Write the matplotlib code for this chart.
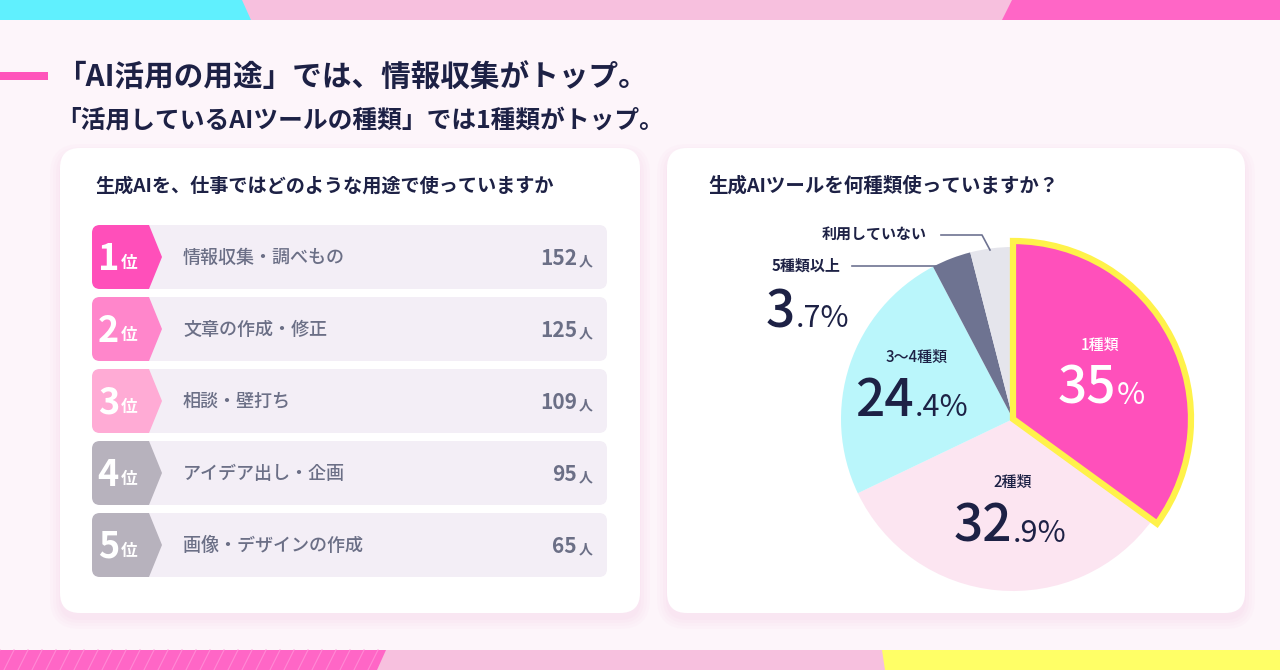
import matplotlib
matplotlib.use("Agg")
import matplotlib.pyplot as plt
from matplotlib.patches import FancyBboxPatch, Polygon

plt.rcParams['font.family'] = ['Noto Sans CJK JP', 'DejaVu Sans']

# ---- data ----
ranks = [1, 2, 3, 4, 5]
uses = ['情報収集・調べもの', '文章の作成・修正', '相談・壁打ち', 'アイデア出し・企画', '画像・デザインの作成']
use_counts = [152, 125, 109, 95, 65]

tool_kinds = ['1種類', '2種類', '3〜4種類', '5種類以上', '利用していない']
tool_shares = [35, 32.9, 24.4, 3.7, 4.0]

NAVY = '#1d2145'
GRAY_TXT = '#6b6f86'
badge_colors = ['#ff4fba', '#ff86cb', '#ffabd5', '#b7b2bd', '#b7b2bd']
slice_colors = ['#ff50bb', '#fce5f1', '#baf6fb', '#6e7391', '#e5e5ec']

fig = plt.figure(figsize=(12.8, 6.7), dpi=100)
fig.patch.set_facecolor('#fdf5fa')
ax = fig.add_axes([0, 0, 1, 1])
ax.set_xlim(0, 1280)
ax.set_ylim(670, 0)
ax.axis('off')

# top band
ax.add_patch(Polygon([(0, 0), (1280, 0), (1280, 20), (0, 20)], color='#f7c0de', lw=0))
ax.add_patch(Polygon([(0, 0), (242, 0), (251, 20), (0, 20)], color='#60f0fe', lw=0))
ax.add_patch(Polygon([(1012, 0), (1280, 0), (1280, 20), (1002, 20)], color='#ff66c6', lw=0))

# bottom band
ax.add_patch(Polygon([(0, 650), (1280, 650), (1280, 670), (0, 670)], color='#f7c0de', lw=0))
ax.add_patch(Polygon([(0, 650), (386, 650), (377, 670), (0, 670)], color='#ff66c6', lw=0))
for sx in range(-10, 380, 14):
    ax.plot([sx, sx + 10], [670, 650], color='#ff8ad4', lw=0.8)
ax.add_patch(Polygon([(882, 650), (1280, 650), (1280, 670), (885, 670)], color='#ffff66', lw=0))

# titles
ax.add_patch(Polygon([(0, 72), (48, 72), (48, 80), (0, 80)], color='#ff55bb', lw=0))
ax.text(56, 77, '「AI活用の用途」では、情報収集がトップ。', fontsize=21.3, fontweight='bold',
        color=NAVY, va='center', ha='left')
ax.text(56, 121, '「活用しているAIツールの種類」では1種類がトップ。', fontsize=17.8,
        fontweight='bold', color=NAVY, va='center', ha='left')

# panels with soft shadow
for px0, px1 in [(60, 640), (667, 1245)]:
    for i, a in enumerate([0.05, 0.05, 0.06, 0.07]):
        g = 10 - i * 3
        ax.add_patch(FancyBboxPatch((px0 - g, 148 - g + 6), px1 - px0 + 2 * g, 465 + 2 * g,
                                    boxstyle='round,pad=0,rounding_size=%d' % (20 + g),
                                    fc='#f5b8dc', ec='none', alpha=a))
    ax.add_patch(FancyBboxPatch((px0, 148), px1 - px0, 465,
                                boxstyle='round,pad=0,rounding_size=20',
                                fc='white', ec='none'))

ax.text(95, 186, '生成AIを、仕事ではどのような用途で使っていますか', fontsize=13.8,
        fontweight='bold', color=NAVY, va='center', ha='left')
ax.text(708, 186, '生成AIツールを何種類使っていますか？', fontsize=14,
        fontweight='bold', color=NAVY, va='center', ha='left')

# ranking rows
row_top0, row_h, row_gap = 225, 64, 72
for i, (rk, label, cnt) in enumerate(zip(ranks, uses, use_counts)):
    top = row_top0 + i * row_gap
    mid = top + row_h / 2
    row = FancyBboxPatch((92, top), 515, row_h, boxstyle='round,pad=0,rounding_size=8',
                         fc='#f3eef6', ec='none')
    ax.add_patch(row)
    badge = Polygon([(80, top), (149, top), (162, mid), (149, top + row_h), (80, top + row_h)],
                    color=badge_colors[i], lw=0)
    ax.add_patch(badge)
    badge.set_clip_path(row)
    ax.text(119, mid + 13, str(rk), fontsize=26, fontweight='bold', color='white',
            ha='right', va='baseline')
    ax.text(121, mid + 11, '位', fontsize=12, fontweight='bold', color='white',
            ha='left', va='baseline')
    ax.text(183, mid + 1, label, fontsize=13, fontweight='medium', color=GRAY_TXT,
            ha='left', va='center')
    ax.text(577, mid + 8, str(cnt), fontsize=15, fontweight='bold', color=GRAY_TXT,
            ha='right', va='baseline')
    ax.text(579, mid + 8, '人', fontsize=10, fontweight='bold', color=GRAY_TXT,
            ha='left', va='baseline')

# pie chart
cx, cy, R = 1013, 419, 172
half = 200
pax = fig.add_axes([(cx - half) / 1280, (670 - cy - half) / 670, 2 * half / 1280, 2 * half / 670])
wedges, _ = pax.pie(tool_shares, colors=slice_colors, startangle=90, counterclock=False,
                    radius=R, wedgeprops=dict(lw=0))
pax.set_xlim(-half, half)
pax.set_ylim(-half, half)
pax.axis('off')
wedges[0].set_radius(178)
wedges[0].set_edgecolor('#fff24a')
wedges[0].set_linewidth(4.5)
wedges[0].set_zorder(5)

# overlay for pie labels
tax = fig.add_axes([0, 0, 1, 1])
tax.set_xlim(0, 1280)
tax.set_ylim(670, 0)
tax.axis('off')


def big_pct(x, y, value, color):
    s = f'{value:g}'
    if '.' in s:
        ip, dp = s.split('.')
        rest = '.' + dp + '%'
    else:
        ip, rest = s, '%'
    tax.text(x, y, ip, fontsize=37, fontweight='medium', color=color, ha='right', va='baseline')
    tax.text(x + 1, y, rest, fontsize=22, fontweight='regular', color=color, ha='left', va='baseline')


# label anchors: (name x, name y, split x, number baseline y)
label_pos = [(1100, 345, 1116, 404), (1013, 482, 1012, 542), (917, 357, 914, 416),
             (806, 266, 795, 327), (874, 234, None, None)]
txt_colors = ['white', NAVY, NAVY, NAVY, NAVY]
name_weights = ['medium', 'medium', 'medium', 'bold', 'bold']

for k, (name, share) in enumerate(zip(tool_kinds, tool_shares)):
    nx, ny, sx, by = label_pos[k]
    tax.text(nx, ny, name, fontsize=10.8, fontweight=name_weights[k], color=txt_colors[k],
             ha='center', va='center')
    if sx is not None:
        big_pct(sx, by, share, txt_colors[k])

# leader lines
tax.plot([852, 946], [266, 266], color='#6e7391', lw=1.2)
tax.plot([941, 982, 990], [235, 235, 250], color='#6e7391', lw=1.2)

fig.savefig('out.png', dpi=100, facecolor=fig.get_facecolor())
